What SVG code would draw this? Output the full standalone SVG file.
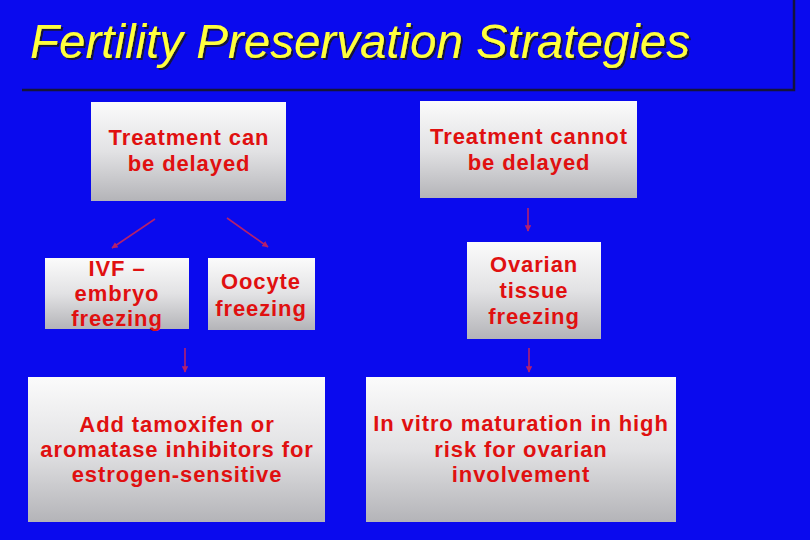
<svg xmlns="http://www.w3.org/2000/svg" width="810" height="540" viewBox="0 0 810 540">
<defs>
<linearGradient id="g" x1="0" y1="0" x2="0" y2="1">
<stop offset="0" stop-color="#fbfbfb"/>
<stop offset="0.5" stop-color="#e2e2e4"/>
<stop offset="1" stop-color="#b4b4b8"/>
</linearGradient>
<filter id="sh" x="-5%" y="-20%" width="110%" height="140%">
<feDropShadow dx="2" dy="2" stdDeviation="0.6" flood-color="#14143a" flood-opacity="1"/>
</filter>
<marker id="ah" viewBox="0 0 10 10" refX="9" refY="5" markerWidth="4" markerHeight="4" orient="auto">
<path d="M0,0 L10,5 L0,10 z" fill="#b4206c"/>
</marker>
<style>
.box{fill:url(#g);}
.t{font-family:"Liberation Sans",Arial,sans-serif;font-weight:bold;font-size:22px;fill:#e01010;text-anchor:middle;letter-spacing:0.9px;}
.c{stroke:#b4206c;stroke-width:1.6;fill:none;marker-end:url(#ah);}
.title{font-family:"Liberation Sans",Arial,sans-serif;font-style:italic;font-size:47.5px;fill:#ffff3c;filter:url(#sh);}
</style>
</defs>
<rect width="810" height="540" fill="#0a0aee"/>
<g id="title-bar">
<path d="M22,90 H794 V0" fill="none" stroke="#14143c" stroke-width="2.5"/>
<text class="title" x="30" y="58">Fertility Preservation Strategies</text>
</g>
<g id="connectors">
<line class="c" x1="155" y1="219" x2="112" y2="248"/>
<line class="c" x1="227" y1="218" x2="268" y2="247"/>
<line class="c" x1="528" y1="208" x2="528" y2="231"/>
<line class="c" x1="185" y1="348" x2="185" y2="372"/>
<line class="c" x1="529" y1="348" x2="529" y2="372"/>
</g>
<g id="n-can">
<rect class="box" x="91" y="102" width="195" height="99"/>
<text class="t" x="189" y="145">Treatment can</text>
<text class="t" x="189" y="171">be delayed</text>
</g>
<g id="n-cannot">
<rect class="box" x="420" y="101" width="217" height="97"/>
<text class="t" x="529" y="144">Treatment cannot</text>
<text class="t" x="529" y="170">be delayed</text>
</g>
<g id="n-ivf">
<rect class="box" x="45" y="258" width="144" height="71"/>
<text class="t" x="117" y="276">IVF –</text>
<text class="t" x="117" y="301">embryo</text>
<text class="t" x="117" y="326">freezing</text>
</g>
<g id="n-oocyte">
<rect class="box" x="208" y="258" width="107" height="72"/>
<text class="t" x="261" y="289">Oocyte</text>
<text class="t" x="261" y="316">freezing</text>
</g>
<g id="n-ovarian">
<rect class="box" x="467" y="242" width="134" height="97"/>
<text class="t" x="534" y="272">Ovarian</text>
<text class="t" x="534" y="298">tissue</text>
<text class="t" x="534" y="324">freezing</text>
</g>
<g id="n-tamoxifen">
<rect class="box" x="28" y="377" width="297" height="145"/>
<text class="t" x="177" y="432">Add tamoxifen or</text>
<text class="t" x="177" y="457">aromatase inhibitors for</text>
<text class="t" x="177" y="482">estrogen-sensitive</text>
</g>
<g id="n-ivm">
<rect class="box" x="366" y="377" width="310" height="145"/>
<text class="t" x="521" y="431">In vitro maturation in high</text>
<text class="t" x="521" y="457">risk for ovarian</text>
<text class="t" x="521" y="482">involvement</text>
</g>
</svg>
